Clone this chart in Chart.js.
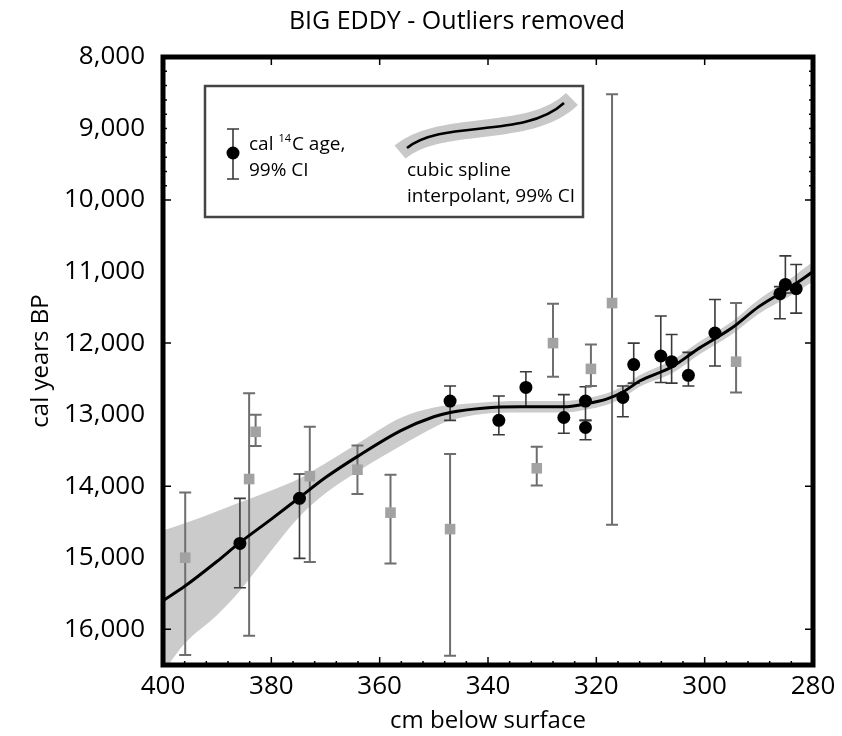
<!DOCTYPE html>
<html lang="en">
<head>
<meta charset="UTF-8" />
<title>Big Eddy - Outliers removed</title>
<style>
  html, body { margin: 0; padding: 0; background: #fff; }
  #wrap { width: 842px; height: 736px; }
</style>
</head>
<body>
<div id="wrap"><canvas id="chartJSContainer" width="842" height="736"></canvas></div>
<script src="https://cdn.jsdelivr.net/npm/chart.js@4.4.0/dist/chart.umd.min.js"></script>
<script>
// dated samples kept in the model (black dots), cm below surface / cal years BP, 99% CI
const datedDepth = [385.8, 374.8, 347.0, 338.0, 333.0, 326.0, 322.0, 322.0, 315.1, 313.1, 308.1, 306.1, 303.0, 298.1, 286.1, 285.1, 283.1];
const datedAge   = [14800, 14170, 12810, 13080, 12620, 13040, 12810, 13180, 12760, 12300, 12180, 12260, 12450, 11860, 11310, 11180, 11240];
const datedLo    = [14170, 13830, 12600, 12740, 12400, 12720, 12610, 13080, 12600, 12000, 11620, 11880, 12130, 11390, 11210, 10780, 10900];
const datedHi    = [15420, 15010, 13080, 13280, 12890, 13260, 13080, 13350, 13030, 12560, 12550, 12560, 12600, 12320, 11660, 11300, 11580];

// outliers (grey squares)
const outDepth = [395.9, 384.1, 382.9, 372.9, 364.1, 358.0, 347.0, 331.0, 328.0, 321.0, 317.1, 294.2];
const outAge   = [15000, 13900, 13240, 13860, 13770, 14370, 14600, 13750, 12000, 12360, 11440, 12260];
const outLo    = [14090, 12700, 13000, 13170, 13430, 13840, 13550, 13450, 11450, 12020, 8520, 11440];
const outHi    = [16360, 16090, 13440, 15060, 14110, 15080, 16370, 13990, 12470, 12600, 14540, 12690];

// cubic spline interpolant and its 99% band
const splineDepth = [400, 396, 390, 386, 380, 375, 370, 364, 356, 350, 347, 341, 334, 326, 322, 318, 315, 312, 306, 301, 295, 290, 284, 280];
const splineAge   = [15600, 15400, 15050, 14800, 14460, 14170, 13880, 13580, 13220, 13030, 12970, 12910, 12890, 12890, 12850, 12780, 12680, 12530, 12330, 12070, 11790, 11490, 11210, 11000];
const splineLow   = [14620, 14520, 14350, 14230, 14060, 13900, 13680, 13400, 13040, 12900, 12870, 12830, 12810, 12810, 12770, 12700, 12600, 12450, 12240, 11980, 11700, 11390, 11090, 10860];
const splineHigh  = [16600, 16200, 15800, 15480, 14900, 14440, 14100, 13790, 13430, 13180, 13080, 12990, 12970, 12970, 12930, 12860, 12760, 12610, 12420, 12160, 11880, 11590, 11330, 11140];

// axis tick labels
const xTicks = [400, 380, 360, 340, 320, 300, 280];
const yTicks = [8000, 9000, 10000, 11000, 12000, 13000, 14000, 15000, 16000];

const FONT = "'Open Sans', 'Noto Sans', sans-serif";

const pts = (xs, ys, lo, hi) => xs.map((x, i) => ({ x, y: ys[i], lo: lo ? lo[i] : null, hi: hi ? hi[i] : null }));

const errorBars = {
  id: 'errorBars',
  beforeDatasetDraw(chart, args) {
    if (args.index !== 2) return;
    const { ctx, scales: { x, y } } = chart;
    ctx.save();
    [[0, '#3a3a3a', 1.6], [1, '#6e6e6e', 2]].forEach(([i, col, w]) => {
      ctx.strokeStyle = col;
      ctx.lineWidth = w;
      chart.data.datasets[i].data.forEach(p => {
        const px = x.getPixelForValue(p.x);
        const t = y.getPixelForValue(p.lo);
        const b = y.getPixelForValue(p.hi);
        ctx.beginPath();
        ctx.moveTo(px, t); ctx.lineTo(px, b);
        ctx.moveTo(px - 6, t); ctx.lineTo(px + 6, t);
        ctx.moveTo(px - 6, b); ctx.lineTo(px + 6, b);
        ctx.stroke();
      });
    });
    ctx.restore();
  }
};

const frame = {
  id: 'frame',
  afterDatasetsDraw(chart) {
    const { ctx, chartArea: a, scales: { x, y } } = chart;
    ctx.save();
    ctx.strokeStyle = '#000';
    ctx.lineWidth = 1.5;
    ctx.beginPath();
    for (let v = 280; v <= 400; v += 4) {
      const px = x.getPixelForValue(v);
      const major = v % 20 === 0;
      const len = major ? 8 : 4;
      ctx.moveTo(px, a.bottom); ctx.lineTo(px, a.bottom - len);
      if (major) { ctx.moveTo(px, a.top); ctx.lineTo(px, a.top + len); }
    }
    for (let v = 8000; v <= 16000; v += 200) {
      const py = y.getPixelForValue(v);
      const major = v % 2000 === 0;
      if (!major && v > 10000) continue;
      const len = major ? 8 : 4;
      ctx.moveTo(a.left, py); ctx.lineTo(a.left + len, py);
      ctx.moveTo(a.right, py); ctx.lineTo(a.right - len, py);
    }
    ctx.stroke();
    ctx.lineWidth = 5;
    ctx.strokeRect(a.left, a.top, a.right - a.left, a.bottom - a.top);
    ctx.restore();
  }
};

const decor = {
  id: 'decor',
  afterDraw(chart) {
    const { ctx } = chart;
    ctx.save();
    // title
    ctx.fillStyle = '#000';
    ctx.font = `25px ${FONT}`;
    ctx.textAlign = 'center';
    ctx.textBaseline = 'middle';
    ctx.fillText('BIG EDDY - Outliers removed', 457, 22);

    // legend box
    ctx.fillStyle = '#fff';
    ctx.fillRect(205, 86, 378, 131);
    ctx.strokeStyle = '#444';
    ctx.lineWidth = 2.5;
    ctx.strokeRect(205, 86, 378, 131);

    // error bar symbol
    ctx.strokeStyle = '#3a3a3a';
    ctx.lineWidth = 1.6;
    ctx.beginPath();
    ctx.moveTo(233, 129); ctx.lineTo(233, 179);
    ctx.moveTo(227, 129); ctx.lineTo(239, 129);
    ctx.moveTo(227, 179); ctx.lineTo(239, 179);
    ctx.stroke();
    ctx.fillStyle = '#000';
    ctx.beginPath();
    ctx.arc(233, 153, 6.5, 0, Math.PI * 2);
    ctx.fill();

    ctx.textAlign = 'left';
    ctx.textBaseline = 'alphabetic';
    ctx.font = `19px ${FONT}`;
    ctx.fillText('cal ', 249, 150);
    let xx = 249 + ctx.measureText('cal ').width;
    ctx.font = `11px ${FONT}`;
    ctx.fillText('14', xx, 142);
    xx += ctx.measureText('14').width + 1;
    ctx.font = `19px ${FONT}`;
    ctx.fillText('C age,', xx, 150);
    ctx.fillText('99% CI', 249, 176);

    // spline symbol
    ctx.lineCap = 'butt';
    ctx.strokeStyle = '#c8c8c8';
    ctx.lineWidth = 17;
    ctx.beginPath();
    ctx.moveTo(400, 152);
    ctx.bezierCurveTo(440, 118, 530, 140, 572, 99);
    ctx.stroke();
    ctx.strokeStyle = '#000';
    ctx.lineWidth = 2.5;
    ctx.beginPath();
    ctx.moveTo(407, 148);
    ctx.bezierCurveTo(443, 119, 525, 139, 564, 103);
    ctx.stroke();

    ctx.fillStyle = '#000';
    ctx.fillText('cubic spline', 407, 176);
    ctx.fillText('interpolant, 99% CI', 407, 202);
    ctx.restore();
  }
};

const data = {
  datasets: [
    {
      label: 'dated',
      data: pts(datedDepth, datedAge, datedLo, datedHi),
      pointStyle: 'circle',
      pointRadius: 6.5,
      pointBackgroundColor: '#000',
      pointBorderWidth: 0,
      order: 0
    },
    {
      label: 'outliers',
      data: pts(outDepth, outAge, outLo, outHi),
      pointStyle: 'rect',
      pointRadius: 7.5,
      pointBackgroundColor: '#a2a2a2',
      pointBorderWidth: 0,
      order: 0
    },
    {
      type: 'line',
      label: 'spline',
      data: pts(splineDepth, splineAge),
      borderColor: '#000',
      borderWidth: 3,
      pointRadius: 0,
      cubicInterpolationMode: 'monotone',
      fill: false,
      order: 1
    },
    {
      type: 'line',
      label: 'band high',
      data: pts(splineDepth, splineHigh),
      borderWidth: 0,
      borderColor: 'rgba(0,0,0,0)',
      backgroundColor: '#cbcbcb',
      pointRadius: 0,
      cubicInterpolationMode: 'monotone',
      fill: '+1',
      order: 2
    },
    {
      type: 'line',
      label: 'band low',
      data: pts(splineDepth, splineLow),
      borderWidth: 0,
      borderColor: 'rgba(0,0,0,0)',
      pointRadius: 0,
      cubicInterpolationMode: 'monotone',
      fill: false,
      order: 2
    }
  ]
};

Chart.defaults.color = '#000';
Chart.defaults.font.family = FONT;

const options = {
  responsive: false,
  animation: false,
  devicePixelRatio: 1,
  layout: { padding: { top: 57, right: 29, left: 0, bottom: 0 } },
  plugins: { legend: { display: false }, tooltip: { enabled: false } },
  scales: {
    x: {
      type: 'linear',
      position: 'bottom',
      reverse: true,
      min: 280,
      max: 400,
      afterFit: s => { s.height = 71; },
      afterBuildTicks: s => { s.ticks = xTicks.map(v => ({ value: v })); },
      grid: { display: false, drawTicks: false },
      border: { display: false },
      ticks: { padding: 6, font: { size: 26 } },
      title: { display: true, text: 'cm below surface', font: { size: 24 }, padding: { top: 3, bottom: 0 } }
    },
    y: {
      type: 'linear',
      position: 'left',
      reverse: true,
      min: 8000,
      max: 16500,
      afterFit: s => { s.width = 163; },
      afterBuildTicks: s => { s.ticks = yTicks.map(v => ({ value: v })); },
      grid: { display: false, drawTicks: false },
      border: { display: false },
      ticks: {
        padding: 18,
        font: { size: 26 },
        callback: v => v.toLocaleString('en-US')
      },
      title: { display: true, text: 'cal years BP', font: { size: 24 }, padding: { top: 27, bottom: 0 } }
    }
  }
};

new Chart(document.getElementById('chartJSContainer').getContext('2d'), {
  type: 'scatter',
  data,
  options,
  plugins: [errorBars, frame, decor]
});
</script>
</body>
</html>
